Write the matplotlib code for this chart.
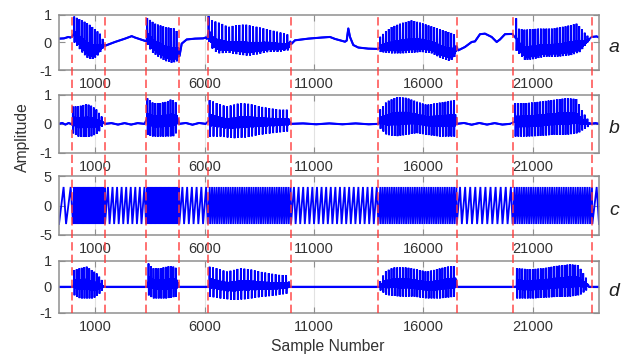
import numpy as np
import matplotlib
matplotlib.use('Agg')
import matplotlib.pyplot as plt

plt.rcParams['font.family'] = ['Liberation Sans', 'DejaVu Sans']
plt.rcParams['axes.unicode_minus'] = False

# ---------------- data ----------------
x_ticks = [1000, 6000, 11000, 16000, 21000]
x_min, x_max = -644, 24014
boundaries = [-60, 1460, 3320, 4850, 6150, 9950, 13940, 17520, 20070, 23710]
panel_labels = ['a', 'b', 'c', 'd']

# panel a: burst envelopes (upper / lower) and baseline between bursts
a_up_x = [[41, 393, 694, 1000, 1228, 1457],
          [3374, 3740, 4196, 4653, 4804],
          [6173, 6328, 6785, 7086, 7393, 7849, 8306, 8762, 9219, 9676, 9904],
          [14013, 14242, 14548, 15004, 15461, 15918, 16374, 16831, 17288, 17470],
          [20223, 20328, 20634, 21241, 21853, 22460, 22994, 23223, 23451, 23602]]
a_up = [[0.93, 0.79, 0.67, 0.47, 0.31, -0.05],
        [0.88, 0.67, 0.55, 0.49, 0.31],
        [0.96, 0.79, 0.67, 0.55, 0.61, 0.64, 0.57, 0.49, 0.40, 0.31, 0.25],
        [0.19, 0.37, 0.55, 0.69, 0.79, 0.69, 0.57, 0.45, 0.33, 0.25],
        [0.90, 0.49, 0.45, 0.49, 0.49, 0.57, 0.67, 0.49, 0.25, 0.19]]
a_lo_x = [[41, 224, 452, 680, 849, 1078, 1306, 1457],
          [3374, 3589, 3890, 4196, 4502, 4730, 4836],
          [6173, 6401, 6630, 7086, 7543, 7999, 8456, 8913, 9370, 9826, 9927],
          [14013, 14548, 15004, 15461, 15918, 16374, 16831, 17133, 17361, 17516],
          [20223, 20634, 20940, 21547, 22154, 22767, 23146, 23451, 23602]]
a_lo = [[0.01, -0.17, -0.40, -0.58, -0.62, -0.52, -0.29, -0.10],
        [-0.05, -0.35, -0.52, -0.67, -0.74, -0.70, -0.52],
        [0.07, -0.29, -0.40, -0.38, -0.44, -0.49, -0.43, -0.35, -0.35, -0.29, -0.05],
        [-0.35, -0.40, -0.40, -0.38, -0.35, -0.40, -0.58, -0.67, -0.62, -0.35],
        [-0.29, -0.64, -0.62, -0.52, -0.52, -0.46, -0.35, -0.05, 0.10]]
a_pulses = [12, 12, 24, 27, 27]
a_base_x = [-644, -416, -219, -119, -50,
            1480, 1913, 2370, 2676, 2826, 3283, 3352,
            4858, 4959, 5187, 5566, 5945, 6055, 6114,
            9981, 10132, 10740, 11351, 11730, 11958, 12415, 12493, 12566, 12644, 12794, 13023, 13480, 13923,
            17589, 17895, 18201, 18351, 18579, 18807, 19113, 19342, 19492, 19721, 20027, 20086,
            23680, 23908, 24014]
a_base_y = [0.13, 0.14, 0.19, 0.17, 0.20,
            -0.12, 0.01, 0.13, 0.22, 0.17, 0.05, 0.05,
            -0.50, -0.05, 0.10, 0.13, 0.14, 0.17, 0.12,
            -0.05, 0.07, 0.13, 0.17, 0.19, 0.12, 0.02, 0.06, 0.50, 0.19, -0.10, -0.19, -0.23, -0.24,
            -0.29, -0.17, 0.01, 0.03, 0.29, 0.31, 0.19, 0.01, 0.10, 0.29, 0.30, 0.28,
            0.19, 0.21, 0.17]

# panel b
b_up_x = [[-18, 315, 621, 849, 1078, 1306, 1411],
          [3383, 3657, 3968, 4274, 4502, 4730, 4790],
          [6219, 6557, 7013, 7315, 7621, 8077, 8534, 8990, 9447, 9826, 9904],
          [14013, 14319, 14776, 15233, 15689, 16146, 16602, 17059, 17438, 17507],
          [20178, 20711, 21319, 21927, 22535, 22994, 23223, 23451, 23602]]
b_up = [[0.60, 0.62, 0.69, 0.62, 0.49, 0.25, 0.10],
        [0.89, 0.72, 0.72, 0.77, 0.86, 0.72, 0.50],
        [0.83, 0.72, 0.60, 0.66, 0.72, 0.69, 0.60, 0.54, 0.49, 0.49, 0.20],
        [0.49, 0.77, 0.93, 0.90, 0.77, 0.66, 0.72, 0.77, 0.83, 0.60],
        [0.72, 0.72, 0.77, 0.83, 0.89, 0.86, 0.49, 0.20, 0.10]]
b_lo_x = [[-18, 238, 543, 849, 1152, 1306, 1411],
          [3383, 3657, 4119, 4576, 4776],
          [6219, 6708, 7315, 7924, 8534, 9143, 9826, 9904],
          [14013, 14319, 14776, 15233, 15689, 16146, 16753, 17438, 17507],
          [20178, 20711, 21319, 21927, 22535, 23070, 23298, 23527, 23602]]
b_lo = [[-0.32, -0.44, -0.46, -0.43, -0.32, -0.10, -0.05],
        [-0.38, -0.44, -0.44, -0.43, -0.26],
        [-0.44, -0.44, -0.50, -0.47, -0.38, -0.32, -0.26, -0.10],
        [-0.15, -0.38, -0.43, -0.38, -0.32, -0.38, -0.44, -0.44, -0.30],
        [-0.44, -0.44, -0.42, -0.38, -0.38, -0.32, -0.20, -0.10, -0.05]]
b_pulses = [12, 12, 23, 27, 27]
b_base_x = [-644, -500, -350, -200, -60,
            1460, 1750, 2050, 2350, 2650, 2950, 3250,
            4850, 5150, 5450, 5750, 6050,
            9950, 10500, 11100, 11700, 12300, 12900, 13500, 13940,
            17520, 17850, 18200, 18550, 18900, 19250, 19600, 19950,
            23650, 23850, 24014]
b_base_y = [0.0, 0.03, -0.025, 0.03, -0.02,
            0.0, 0.025, -0.025, 0.025, -0.025, 0.025, 0.0,
            0.0, 0.03, -0.03, 0.03, 0.0,
            0.0, 0.015, -0.015, 0.015, -0.015, 0.015, -0.015, 0.0,
            0.0, 0.03, -0.03, 0.03, -0.025, 0.025, -0.025, 0.0,
            0.0, 0.025, 0.0]

# panel c: wrapped phase, segment limits and cycle counts
c_seg_start = [-644, 0, 1457, 3330, 4850, 6150, 9950, 13940, 17520, 20070, 23710]
c_seg_end = [0, 1457, 3330, 4850, 6150, 9950, 13940, 17520, 20070, 23710, 24014]
c_cycles = [2, 26, 9, 26, 6, 36, 19, 34, 11, 34, 1]
c_voiced = [0, 1, 0, 1, 0, 1, 0, 1, 0, 1, 0]
c_low, c_high = -3.14, 3.14

# panel d
d_up_x = [[41, 315, 621, 849, 1078, 1306, 1411],
          [3435, 3657, 3968, 4274, 4502, 4730, 4790],
          [6219, 6557, 7013, 7315, 7621, 8077, 8534, 8990, 9447, 9872],
          [14013, 14242, 14622, 15233, 15689, 16146, 16602, 17059, 17500],
          [20254, 20863, 21471, 22080, 22690, 23070, 23298, 23527]]
d_up = [[0.64, 0.71, 0.77, 0.64, 0.51, 0.26, 0.05],
        [0.90, 0.71, 0.71, 0.77, 0.80, 0.71, 0.40],
        [0.77, 0.71, 0.58, 0.64, 0.71, 0.67, 0.58, 0.51, 0.45, 0.45],
        [0.19, 0.58, 0.74, 0.74, 0.67, 0.58, 0.67, 0.77, 0.80],
        [0.71, 0.67, 0.71, 0.80, 0.86, 0.83, 0.51, 0.19]]
d_lo_x = [[41, 315, 621, 924, 1152, 1352, 1411],
          [3435, 3657, 4274, 4730, 4790],
          [6219, 6708, 7315, 7924, 8534, 9143, 9826, 9872],
          [14013, 14319, 14927, 15535, 16146, 16753, 17500],
          [20254, 21015, 21927, 22690, 23146, 23451, 23527]]
d_lo = [[-0.32, -0.45, -0.45, -0.45, -0.32, -0.13, -0.05],
        [-0.32, -0.45, -0.45, -0.38, -0.20],
        [-0.38, -0.45, -0.51, -0.48, -0.40, -0.35, -0.26, -0.10],
        [-0.13, -0.32, -0.38, -0.38, -0.45, -0.45, -0.38],
        [-0.45, -0.45, -0.40, -0.38, -0.32, -0.13, -0.05]]
d_pulses = [12, 12, 23, 27, 27]
d_base_x = [-644, 0, 1460, 3400, 4820, 6190, 9900, 13990, 17530, 20230, 23560, 24014]
d_base_y = [0.0, 0.0, 0.0, 0.0, 0.0, 0.0, 0.0, 0.0, 0.0, 0.0, 0.0, 0.0]

# ---------------- rendering helpers ----------------
# one cycle: (phase within cycle, position between lower and upper envelope)
SHAPE_A = [(0.0, 0.35), (0.08, 1.0), (0.20, 0.0), (0.32, 0.45), (0.45, 0.08),
           (0.60, 0.45), (0.75, 0.10), (0.90, 0.40)]
SHAPE_S = [(0.0, 0.45), (0.08, 1.0), (0.20, 0.0), (0.32, 0.58), (0.45, 0.28),
           (0.60, 0.62), (0.75, 0.30), (0.90, 0.58)]


def burst_trace(ux, uy, lx, ly, n, shape):
    x0 = min(ux[0], lx[0])
    x1 = max(ux[-1], lx[-1])
    per = (x1 - x0) / n
    xs, ys = [], []
    for k in range(n):
        for ph, mix in shape:
            x = x0 + (k + ph) * per
            u = np.interp(x, ux, uy)
            l = np.interp(x, lx, ly)
            xs.append(x)
            ys.append(l + mix * (u - l))
    return x0, x1, xs, ys


def build_trace(bx, by, ux_l, uy_l, lx_l, ly_l, pulses, shape):
    pts = []
    spans = []
    for ux, uy, lx, ly, n in zip(ux_l, uy_l, lx_l, ly_l, pulses):
        x0, x1, xs, ys = burst_trace(ux, uy, lx, ly, n, shape)
        spans.append((x0, x1))
        pts.extend(zip(xs, ys))
    silent = []
    for x, y in zip(bx, by):
        if not any(s0 <= x <= s1 for s0, s1 in spans):
            pts.append((x, y))
            silent.append((x, y))
    pts.sort(key=lambda p: p[0])
    runs, cur = [], []
    for x, y in silent:
        if cur and any(cur[-1][0] < s0 and x > s1 for s0, s1 in spans):
            runs.append(cur)
            cur = []
        cur.append((x, y))
    if cur:
        runs.append(cur)
    return [p[0] for p in pts], [p[1] for p in pts], runs


def phase_trace():
    xs, ys = [], []
    for s, e, n, v in zip(c_seg_start, c_seg_end, c_cycles, c_voiced):
        per = (e - s) / n
        rise = 0.85 if v else 0.65
        for k in range(n):
            t = s + k * per
            xs += [t, t + rise * per]
            ys += [c_low, c_high]
    xs.append(c_seg_end[-1])
    ys.append(c_low)
    return xs, ys, []


# ---------------- figure ----------------
W, H = 632, 360
fig = plt.figure(figsize=(W / 100, H / 100), dpi=100)

L, R = 59, 599
boxes = [(14.5, 70), (95, 152.7), (176, 235), (260.7, 312.7)]
axes = []
for top, bot in boxes:
    ax = fig.add_axes([L / W, 1 - bot / H, (R - L) / W, (bot - top) / H])
    axes.append(ax)

traces = [build_trace(a_base_x, a_base_y, a_up_x, a_up, a_lo_x, a_lo, a_pulses, SHAPE_A),
          build_trace(b_base_x, b_base_y, b_up_x, b_up, b_lo_x, b_lo, b_pulses, SHAPE_S),
          phase_trace(),
          build_trace(d_base_x, d_base_y, d_up_x, d_up, d_lo_x, d_lo, d_pulses, SHAPE_S)]
ylims = [(-1, 1), (-1, 1), (-5, 5), (-1, 1)]
yticks = [[-1, 0, 1], [-1, 0, 1], [-5, 0, 5], [-1, 0, 1]]

frame_col = '#8f8f8f'
text_col = '#333333'
blue = '#0000ff'
for ax, (xs, ys, runs), yl, yt in zip(axes, traces, ylims, yticks):
    ax.plot(xs, ys, color=blue, lw=1.3, solid_joinstyle='miter')
    for run in runs:
        ax.plot([p[0] for p in run], [p[1] for p in run], color=blue, lw=1.5,
                solid_capstyle='round')
    ax.set_xlim(x_min, x_max)
    ax.set_ylim(*yl)
    ax.set_xticks(x_ticks)
    ax.set_xticklabels([str(t) for t in x_ticks])
    ax.set_yticks(yt)
    ax.set_yticklabels([str(t) for t in yt])
    ax.set_axisbelow(True)
    ax.grid(axis='x', color='#e2e2e2', lw=0.8)
    ax.tick_params(direction='in', top=True, right=True, length=4, width=0.8,
                   color=frame_col, labelcolor=text_col, labelsize=10.5, pad=5)
    for sp in ax.spines.values():
        sp.set_color(frame_col)
        sp.set_linewidth(1.1)

# dashed boundaries across all panels
top_px, bot_px = boxes[0][0], boxes[-1][1]
ov = fig.add_axes([L / W, 1 - bot_px / H, (R - L) / W, (bot_px - top_px) / H])
ov.set_xlim(x_min, x_max)
ov.set_ylim(0, 1)
ov.axis('off')
ov.patch.set_alpha(0)
for b in boundaries:
    ov.axvline(b, color='#ff3b3b', alpha=0.85, lw=1.2, dashes=(5, 2.5))

# labels
for lab, (top, bot) in zip(panel_labels, boxes):
    fig.text(614 / W, 1 - ((top + bot) / 2 + 5) / H, lab, fontsize=14, style='italic',
             color='#222222', ha='center', va='center')
fig.text(22 / W, 1 - 137 / H, 'Amplitude', rotation=90, fontsize=11.3,
         color=text_col, ha='center', va='center')
fig.text(328 / W, 1 - 346 / H, 'Sample Number', fontsize=11.3,
         color=text_col, ha='center', va='center')

fig.savefig('out.png', dpi=100)
